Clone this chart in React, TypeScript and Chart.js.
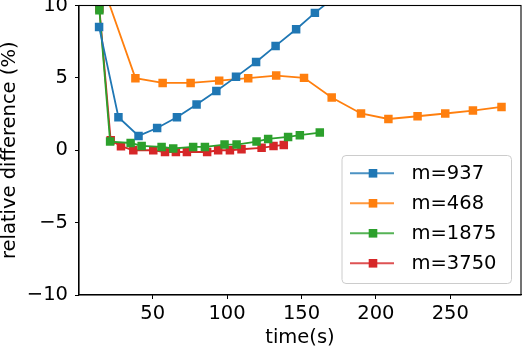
import React, { useEffect, useRef } from 'react';
import { Chart, registerables } from 'chart.js';

Chart.register(...registerables);

const seriesNames = ['m=937', 'm=468', 'm=1875', 'm=3750'];
const seriesColors = ['#1f77b4', '#ff7f0e', '#2ca02c', '#d62728'];

const time937 = [14, 27, 40.5, 53, 66.3, 79.5, 92.8, 106, 119.5, 132.6, 146.4, 159, 172.5];
const diff937 = [8.52, 2.28, 0.99, 1.54, 2.28, 3.16, 4.1, 5.07, 6.1, 7.21, 8.36, 9.49, 10.6];

const time468 = [19.5, 38.4, 56.7, 75.5, 94.7, 114.2, 133, 151.7, 170.3, 190, 208.4, 228, 246.6, 265.2, 284.4];
const diff468 = [10.5, 4.98, 4.65, 4.65, 4.81, 4.98, 5.16, 5.0, 3.64, 2.54, 2.16, 2.35, 2.54, 2.74, 2.99];

const time1875 = [14.2, 21.4, 35.2, 42.6, 56, 63.8, 77.2, 85.1, 98.3, 106.4, 119.8, 127.6, 141, 148.9, 162.3];
const diff1875 = [9.67, 0.6, 0.5, 0.3, 0.23, 0.12, 0.23, 0.23, 0.39, 0.39, 0.6, 0.78, 0.92, 1.04, 1.22];

const time3750 = [14.2, 21.8, 28.7, 37, 50.4, 58.3, 65.6, 73, 86.6, 94, 101.9, 109.7, 123.2, 131.2, 138.1];
const diff3750 = [9.79, 0.69, 0.28, 0.0, 0.0, -0.12, -0.12, -0.12, -0.12, 0.0, 0.0, 0.07, 0.17, 0.29, 0.37];

const xTicks = [50, 100, 150, 200, 250];
const yTicks = [-10, -5, 0, 5, 10];

const seriesTimes = [time937, time468, time1875, time3750];
const seriesDiffs = [diff937, diff468, diff1875, diff3750];

const FONT = 'DejaVu Sans';
const FSIZE = 19.5;

const framePlugin = {
  id: 'frame',
  afterDraw(chart: any) {
    const { ctx, chartArea: ca } = chart;
    ctx.save();
    ctx.strokeStyle = '#000';
    ctx.lineWidth = 1.1;
    ctx.strokeRect(ca.left, ca.top, ca.right - ca.left, ca.bottom - ca.top);
    ctx.restore();

    // legend box (lower right, inside axes)
    const x1 = ca.right - 9.5;
    const y1 = ca.bottom - 11.5;
    const w = 169.5;
    const h = 128;
    const x0 = x1 - w;
    const y0 = y1 - h;
    ctx.save();
    ctx.beginPath();
    const r = 4;
    ctx.moveTo(x0 + r, y0);
    ctx.lineTo(x1 - r, y0);
    ctx.quadraticCurveTo(x1, y0, x1, y0 + r);
    ctx.lineTo(x1, y1 - r);
    ctx.quadraticCurveTo(x1, y1, x1 - r, y1);
    ctx.lineTo(x0 + r, y1);
    ctx.quadraticCurveTo(x0, y1, x0, y1 - r);
    ctx.lineTo(x0, y0 + r);
    ctx.quadraticCurveTo(x0, y0, x0 + r, y0);
    ctx.closePath();
    ctx.fillStyle = 'rgba(255,255,255,0.8)';
    ctx.fill();
    ctx.strokeStyle = '#cccccc';
    ctx.lineWidth = 1;
    ctx.stroke();

    ctx.font = `${FSIZE}px "${FONT}"`;
    ctx.textBaseline = 'middle';
    ctx.textAlign = 'left';
    chart.data.datasets.forEach((ds: any, i: number) => {
      const cy = y0 + 17.8 + i * 30;
      ctx.strokeStyle = ds.borderColor;
      ctx.globalAlpha = 0.8;
      ctx.lineWidth = 2;
      ctx.beginPath();
      ctx.moveTo(x0 + 8, cy);
      ctx.lineTo(x0 + 52, cy);
      ctx.stroke();
      ctx.globalAlpha = 1;
      ctx.fillStyle = ds.backgroundColor;
      ctx.fillRect(x0 + 31 - 4.3, cy - 4.3, 8.6, 8.6);
      ctx.fillStyle = '#000';
      ctx.fillText(ds.label, x0 + 69.5, cy + 1);
    });
    ctx.restore();
  },
};

export default function App() {
  const canvasRef = useRef<HTMLCanvasElement | null>(null);

  useEffect(() => {
    if (!canvasRef.current) return;
    const datasets = seriesNames.map((name, i) => ({
      label: name,
      data: seriesTimes[i].map((t, j) => ({ x: t, y: seriesDiffs[i][j] })),
      borderColor: seriesColors[i],
      backgroundColor: seriesColors[i],
      borderWidth: 1.8,
      pointStyle: 'rect' as const,
      pointRadius: 6,
      pointBorderWidth: 0,
      tension: 0,
      clip: 0,
    }));
    const chart = new Chart(canvasRef.current, {
      type: 'line',
      data: { datasets },
      options: {
        animation: false,
        responsive: false,
        maintainAspectRatio: false,
        layout: { autoPadding: false, padding: { left: 0, top: 5.5, right: 3, bottom: 0 } },
        plugins: {
          legend: { display: false },
          tooltip: { enabled: false },
        },
        scales: {
          x: {
            type: 'linear',
            min: 0.5,
            max: 297.5,
            afterBuildTicks: (scale: any) => {
              scale.ticks = xTicks.map((v) => ({ value: v }));
            },
            afterFit: (scale: any) => {
              scale.height = 55;
              scale.paddingLeft = 0;
              scale.paddingRight = 0;
              scale.paddingTop = 0;
              scale.paddingBottom = 0;
            },
            grid: {
              drawOnChartArea: false,
              drawTicks: true,
              tickLength: 4,
              tickColor: '#000',
              tickWidth: 1,
            },
            border: { display: true, color: '#000', width: 1.1 },
            ticks: {
              color: '#000',
              padding: 3,
              maxRotation: 0,
              font: { family: FONT, size: FSIZE },
              callback: (v: any) => String(v),
            },
            title: {
              display: true,
              text: 'time(s)',
              color: '#000',
              font: { family: FONT, size: FSIZE, lineHeight: 1.2 },
              padding: { top: 0, bottom: 0 },
            },
          },
          y: {
            type: 'linear',
            min: -10,
            max: 10,
            afterBuildTicks: (scale: any) => {
              scale.ticks = yTicks.map((v) => ({ value: v }));
            },
            afterFit: (scale: any) => {
              scale.width = 79;
              scale.paddingLeft = 0;
              scale.paddingRight = 0;
              scale.paddingTop = 0;
              scale.paddingBottom = 0;
            },
            grid: {
              drawOnChartArea: false,
              drawTicks: true,
              tickLength: 4,
              tickColor: '#000',
              tickWidth: 1,
            },
            border: { display: true, color: '#000', width: 1.1 },
            ticks: {
              color: '#000',
              padding: 7,
              font: { family: FONT, size: FSIZE },
              callback: (v: any) => (Number(v) < 0 ? '\u2212' + Math.abs(Number(v)) : String(v)),
            },
            title: {
              display: true,
              text: 'relative difference (%)',
              color: '#000',
              font: { family: FONT, size: FSIZE, lineHeight: 1.0 },
              padding: { top: 0, bottom: 0 },
            },
          },
        },
      },
      plugins: [framePlugin],
    });
    return () => chart.destroy();
  }, []);

  return (
    <div style={{ position: 'fixed', left: 0, top: 0, width: 524, height: 350, background: '#fff' }}>
      <canvas ref={canvasRef} width={524} height={350} style={{ width: 524, height: 350, display: 'block' }} />
    </div>
  );
}
